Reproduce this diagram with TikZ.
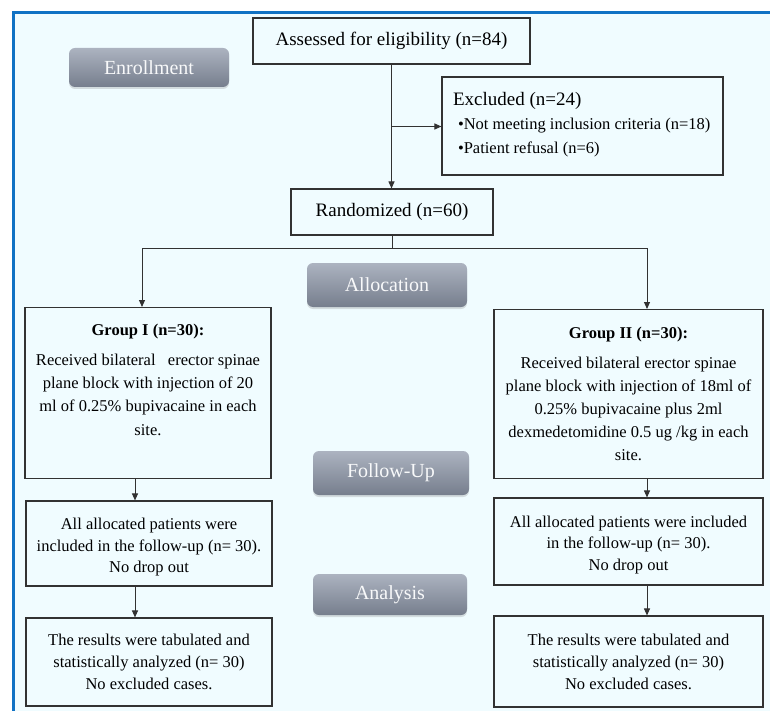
\documentclass[tikz,border=0pt]{standalone}
\usepackage{fontspec}
\setmainfont{Liberation Serif}
\usetikzlibrary{arrows.meta,shadows,calc}
\definecolor{frameblue}{RGB}{16,114,196}
\definecolor{bgcyan}{RGB}{240,252,255}
\definecolor{boxline}{RGB}{50,50,50}
\definecolor{lbltop}{RGB}{172,179,192}
\definecolor{lblbot}{RGB}{118,126,141}
\definecolor{lbltext}{RGB}{248,249,250}
\begin{document}
\begin{tikzpicture}[x=1pt,y=-1pt,
  box/.style={draw=boxline, line width=1.1pt, fill=bgcyan, inner sep=0pt, align=center,
    font=\fontsize{16.5}{22}\selectfont},
  bigtext/.style={font=\fontsize{19}{22}\selectfont},
  lbl/.style={rounded corners=6pt, top color=lbltop, bottom color=lblbot, text=lbltext,
    font=\fontsize{20}{22}\selectfont, inner sep=0pt,
    drop shadow={opacity=0.25, shadow xshift=0pt, shadow yshift=-2pt}},
  arr/.style={draw=boxline, line width=1pt, -{Triangle[length=7pt,width=6pt]}},
  conn/.style={draw=boxline, line width=1pt}]
\useasboundingbox (0,0) rectangle (770,711);
\fill[white] (0,0) rectangle (770,711);
\fill[bgcyan] (13,13) rectangle (770,711);
\draw[frameblue, line width=3pt] (13,711) -- (13,13) -- (770,13);

% labels
\node[lbl, minimum width=160pt, minimum height=39pt] (enr) at (149,67.5) {Enrollment};
\node[lbl, minimum width=160pt, minimum height=44pt] (alloc) at (387,285) {Allocation};
\node[lbl, minimum width=156pt, minimum height=44pt] (fu) at (391,473) {Follow-Up};
\node[lbl, minimum width=154pt, minimum height=41pt] (ana) at (390,594.5) {Analysis};

% top boxes
\node[box, bigtext, minimum width=277pt, minimum height=46pt] (assess) at (391.5,41) {Assessed for eligibility (n=84)};
\node[box, minimum width=281pt, minimum height=98pt, inner sep=0pt] (excl) at (582.5,126)
  {\parbox[c][96pt][c]{259pt}{\raggedright\fontsize{16.5}{24}\selectfont\vspace*{-2pt}%
   {\fontsize{19}{24}\selectfont Excluded (n=24)}\\
   \mbox{\hspace*{5pt}•Not meeting inclusion criteria (n=18)}\\
   \mbox{\hspace*{5pt}•Patient refusal (n=6)}}};
\node[box, bigtext, minimum width=202pt, minimum height=46pt] (rand) at (392,212) {Randomized (n=60)};

% group boxes
\node[box, minimum width=246pt, minimum height=171pt, anchor=north] (g1) at (148,307)
  {\parbox[t][169pt][t]{236pt}{\centering\fontsize{16.5}{23}\selectfont\vspace*{16pt}%
   \textbf{Group I (n=30):}\\[7pt]
   Received bilateral\ \ \ erector spinae\\
   plane block with injection of 20\\
   ml of 0.25\% bupivacaine in each\\[1pt]
   site.}};
\node[box, minimum width=269pt, minimum height=169pt, anchor=north] (g2) at (628.5,309)
  {\parbox[t][167pt][t]{259pt}{\centering\fontsize{16.5}{23}\selectfont\vspace*{17pt}%
   \textbf{Group II (n=30):}\\[6pt]
   Received bilateral erector spinae\\
   plane block with injection of 18ml of\\
   0.25\% bupivacaine plus 2ml\\
   dexmedetomidine 0.5 ug /kg in each\\
   site.}};

% follow-up boxes
\node[box, minimum width=246pt, minimum height=85pt] (g1f) at (149,543.5)
  {\parbox[c][83pt][c]{236pt}{\centering\fontsize{16.5}{21.5}\selectfont\vspace*{8pt}%
   All allocated patients were\\included in the follow-up (n= 30).\\No drop out}};
\node[box, minimum width=269pt, minimum height=87pt] (g2f) at (628.5,541.5)
  {\parbox[c][85pt][c]{259pt}{\centering\fontsize{16.5}{21.5}\selectfont\vspace*{7pt}%
   All allocated patients were included\\in the follow-up (n= 30).\\No drop out}};

% analysis boxes
\node[box, minimum width=246pt, minimum height=88pt] (g1a) at (149,662)
  {The results were tabulated and\\statistically analyzed (n= 30)\\No excluded cases.};
\node[box, minimum width=269pt, minimum height=91pt] (g2a) at (628.5,661.5)
  {The results were tabulated and\\statistically analyzed (n= 30)\\No excluded cases.};

% connectors
\draw[arr] (assess.south) -- (assess.south |- rand.north);
\coordinate (brk) at ($(assess.south)!0.5!(assess.south |- rand.north)$);
\draw[arr] (brk) -- (brk -| excl.west);
\coordinate (jL) at (142,248);
\coordinate (jR) at (647,248);
\draw[conn] (rand.south) -- (rand.south |- jL);
\draw[conn] (jL) -- (jR);
\draw[arr] (jL) -- (jL |- g1.north);
\draw[arr] (jR) -- (jR |- g2.north);
\coordinate (xL) at (135,0);
\coordinate (xR) at (647,0);
\draw[arr] (g1.south -| xL) -- (g1f.north -| xL);
\draw[arr] (g1f.south -| xL) -- (g1a.north -| xL);
\draw[arr] (g2.south -| xR) -- (g2f.north -| xR);
\draw[arr] (g2f.south -| xR) -- (g2a.north -| xR);
\end{tikzpicture}
\end{document}
